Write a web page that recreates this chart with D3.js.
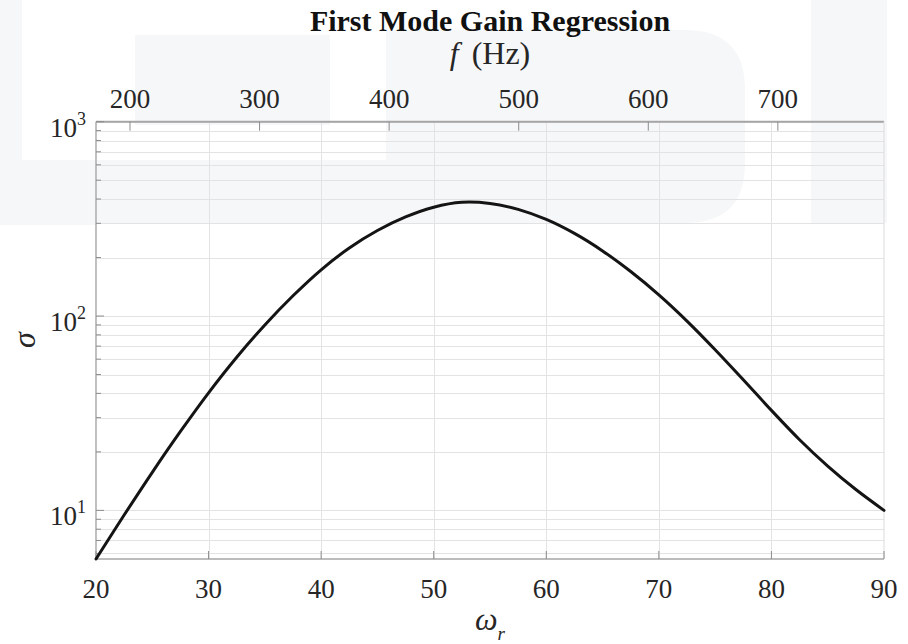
<!DOCTYPE html>
<html>
<head>
<meta charset="utf-8">
<script src="https://cdn.jsdelivr.net/npm/d3@7"></script>
<style>
  html, body { margin: 0; padding: 0; background: #fff; }
  svg { display: block; }
  text { font-family: "Liberation Serif", "Times New Roman", serif; fill: #262626; }
</style>
</head>
<body>
<svg id="chart" width="908" height="644"></svg>
<script>
// Rotor speed samples and the fitted first-mode gain
const omegaR = [20, 22.5, 25, 27.5, 30, 32.5, 35, 37.5, 40, 42.5, 45, 47.5, 50, 52.5, 55,
                57.5, 60, 62.5, 65, 67.5, 70, 72.5, 75, 77.5, 80, 82.5, 85, 87.5, 90];
const sigma = [5.62, 9.46, 15.70, 25.47, 40.27, 61.38, 89.95, 127.1, 173.0, 223.9, 275.4, 323.6, 363.1, 384.6, 379.3,
               354.0, 314.1, 266.1, 216.3, 169.4, 128.5, 94.2, 67.1, 47.0, 32.7, 23.1, 16.9, 12.8, 10.0];

// Axis ticks
const omegaTicks = [20, 30, 40, 50, 60, 70, 80, 90];
const freqTicks = [200, 300, 400, 500, 600, 700];
const sigmaMajor = [10, 100, 1000];
const sigmaExp = ["1", "2", "3"];

// Frequency (Hz) per unit of omega_r for the upper axis
const HZ_PER_OMEGA = 8.688;

const svg = d3.select("#chart");
const L = 96, R = 884, T = 121.7, B = 559;

const x = d3.scaleLinear().domain([20, 90]).range([L, R]);
const xTop = d3.scaleLinear().domain([20 * HZ_PER_OMEGA, 90 * HZ_PER_OMEGA]).range([L, R]);
const y = d3.scaleLog().domain([sigma[0], 1000]).range([B, T]);

// faint background logo shapes
const wm = svg.append("g").attr("fill", "#eef0f4").attr("opacity", 0.5);
wm.append("rect").attr("x", 0).attr("y", 0).attr("width", 22).attr("height", 225);
wm.append("rect").attr("x", 22).attr("y", 160).attr("width", 74).attr("height", 65);
wm.append("rect").attr("x", 135).attr("y", 35).attr("width", 195).attr("height", 90);
wm.append("rect").attr("x", 96).attr("y", 160).attr("width", 290).attr("height", 63);
wm.append("path").attr("d", "M386,30 H685 Q745,30 745,90 V163 Q745,223 685,223 H386 Z");
wm.append("rect").attr("x", 811).attr("y", 0).attr("width", 76).attr("height", 223);

// grid
const minor = y.ticks().filter(v => v >= sigma[0] && v <= 1000);
const grid = svg.append("g").attr("stroke", "#e3e3e3").attr("stroke-width", 1);
grid.selectAll("line.h").data(minor).join("line")
  .attr("x1", L).attr("x2", R)
  .attr("y1", d => Math.round(y(d)) + 0.5).attr("y2", d => Math.round(y(d)) + 0.5);
grid.selectAll("line.v").data(omegaTicks.slice(1, -1)).join("line")
  .attr("y1", T).attr("y2", B)
  .attr("x1", d => Math.round(x(d)) + 0.5).attr("x2", d => Math.round(x(d)) + 0.5);

// axis frame
const axisCol = "#a6a6a6";
svg.append("line").attr("x1", L).attr("x2", R).attr("y1", B).attr("y2", B).attr("stroke", axisCol).attr("stroke-width", 1.6);
svg.append("line").attr("x1", L).attr("x2", L).attr("y1", T).attr("y2", B).attr("stroke", axisCol).attr("stroke-width", 1.4);
svg.append("line").attr("x1", L).attr("x2", R).attr("y1", T).attr("y2", T).attr("stroke", axisCol).attr("stroke-width", 2);
svg.append("line").attr("x1", R).attr("x2", R).attr("y1", T).attr("y2", B).attr("stroke", "#dcdcdc").attr("stroke-width", 1);

// ticks (pointing inward)
const tk = svg.append("g").attr("stroke", "#8c8c8c").attr("stroke-width", 1);
tk.selectAll("line.b").data(omegaTicks).join("line")
  .attr("x1", d => x(d)).attr("x2", d => x(d)).attr("y1", B).attr("y2", B - 8);
tk.selectAll("line.t").data(freqTicks).join("line")
  .attr("x1", d => xTop(d)).attr("x2", d => xTop(d)).attr("y1", T).attr("y2", T + 9);
tk.selectAll("line.l").data(minor).join("line")
  .attr("x1", L).attr("x2", d => L + (sigmaMajor.includes(d) ? 8 : 5))
  .attr("y1", d => y(d)).attr("y2", d => y(d));

// tick labels
svg.append("g").selectAll("text").data(omegaTicks).join("text")
  .attr("x", d => x(d)).attr("y", 598)
  .attr("text-anchor", "middle").attr("font-size", 27)
  .text(d => d);
svg.append("g").selectAll("text").data(freqTicks).join("text")
  .attr("x", d => xTop(d)).attr("y", 108)
  .attr("text-anchor", "middle").attr("font-size", 27)
  .text(d => d);
const yl = svg.append("g").selectAll("text").data(sigmaMajor).join("text")
  .attr("x", 86).attr("y", d => y(d) + 15)
  .attr("text-anchor", "end").attr("font-size", 27);
yl.append("tspan").text("10");
yl.append("tspan").attr("dy", -12).attr("font-size", 18).text((d, i) => sigmaExp[i]);

// curve
const line = d3.line()
  .x((d, i) => x(omegaR[i]))
  .y(d => y(d))
  .curve(d3.curveCatmullRom.alpha(0.5));
svg.append("path").datum(sigma)
  .attr("fill", "none").attr("stroke", "#141414").attr("stroke-width", 3)
  .attr("stroke-linejoin", "round").attr("stroke-linecap", "round")
  .attr("d", line);

// titles
const cx = (L + R) / 2;
svg.append("text").attr("x", cx).attr("y", 31)
  .attr("text-anchor", "middle").attr("font-size", 30).attr("font-weight", "bold")
  .style("fill", "#111").text("First Mode Gain Regression");
const ft = svg.append("text").attr("x", cx).attr("y", 64)
  .attr("text-anchor", "middle").attr("font-size", 32);
ft.append("tspan").attr("font-style", "italic").text("f");
ft.append("tspan").attr("dx", 13).text("(Hz)");

const xl = svg.append("text").attr("x", cx).attr("y", 630)
  .attr("text-anchor", "middle").attr("font-size", 32).attr("font-style", "italic");
xl.append("tspan").text("ω");
xl.append("tspan").attr("dy", 10).attr("font-size", 19).text("r");

svg.append("text").attr("transform", "translate(35,340) rotate(-90)")
  .attr("text-anchor", "middle").attr("font-size", 32).attr("font-style", "italic")
  .text("σ");
</script>
</body>
</html>
